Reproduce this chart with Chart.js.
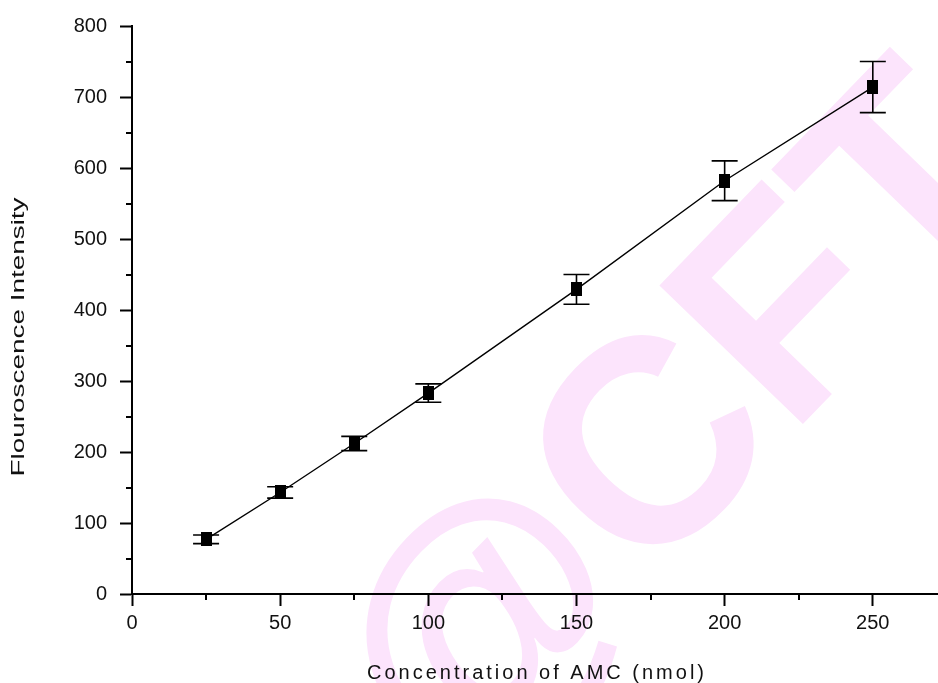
<!DOCTYPE html>
<html>
<head>
<meta charset="utf-8">
<script src="https://cdn.jsdelivr.net/npm/chart.js@4.4.1/dist/chart.umd.min.js"></script>
<style>
  html, body { margin: 0; padding: 0; background: #fff; }
  #wrap { width: 938px; height: 683px; }
</style>
</head>
<body>
<div id="wrap"><canvas id="amcChart" width="938" height="683"></canvas></div>
<script>
// values
const concentration = [25, 50, 75, 100, 150, 200, 250];
const intensity = [77, 143, 212, 283, 429, 582, 714];
const errorSize = [6, 8, 10, 13, 21, 28, 36];
const xMinorTicks = [25, 75, 125, 175, 225];
const yMinorTicks = [50, 150, 250, 350, 450, 550, 650, 750];
const xTitle = "Concentration of AMC (nmol)";
const yTitle = "Flouroscence Intensity";
const watermarkText = "@CFT";

// filled square marker, a bit taller than wide like the original
const marker = document.createElement("canvas");
marker.width = 11;
marker.height = 14;
const mctx = marker.getContext("2d");
mctx.fillStyle = "#000";
mctx.fillRect(0, 0, 11, 14);

const watermark = {
    id: "watermark",
    beforeDraw(chart) {
        const ctx = chart.ctx;
        ctx.save();
        ctx.translate(684, 432);
        ctx.rotate(-46 * Math.PI / 180);
        ctx.font = "bold 290px 'Liberation Sans', Arial, sans-serif";
        ctx.fillStyle = "#fce4fc";
        ctx.textAlign = "center";
        ctx.textBaseline = "middle";
        ctx.fillText(watermarkText, 0, 0);
        ctx.restore();
    }
};

const errorBars = {
    id: "errorBars",
    afterDatasetsDraw(chart) {
        const ctx = chart.ctx;
        const xs = chart.scales.x, ys = chart.scales.y;
        ctx.save();
        ctx.strokeStyle = "#000";
        ctx.lineWidth = 1.6;
        concentration.forEach((c, i) => {
            const x = xs.getPixelForValue(c);
            const top = ys.getPixelForValue(intensity[i] + errorSize[i]);
            const bot = ys.getPixelForValue(intensity[i] - errorSize[i]);
            ctx.beginPath();
            ctx.moveTo(x, top); ctx.lineTo(x, bot);
            ctx.moveTo(x - 13, top); ctx.lineTo(x + 13, top);
            ctx.moveTo(x - 13, bot); ctx.lineTo(x + 13, bot);
            ctx.stroke();
        });
        ctx.restore();
    }
};

const axisExtras = {
    id: "axisExtras",
    afterDraw(chart) {
        const ctx = chart.ctx;
        const xs = chart.scales.x, ys = chart.scales.y;
        const area = chart.chartArea;
        ctx.save();
        // minor ticks
        ctx.strokeStyle = "#000";
        ctx.lineWidth = 2;
        ctx.beginPath();
        yMinorTicks.forEach(v => {
            const y = Math.round(ys.getPixelForValue(v));
            ctx.moveTo(area.left - 6, y); ctx.lineTo(area.left, y);
        });
        xMinorTicks.forEach(v => {
            const x = Math.round(xs.getPixelForValue(v));
            ctx.moveTo(x, area.bottom); ctx.lineTo(x, area.bottom + 6);
        });
        ctx.stroke();

        // axis titles
        ctx.fillStyle = "#111";
        ctx.font = "20px 'Liberation Sans', Arial, sans-serif";
        ctx.textAlign = "center";
        ctx.textBaseline = "middle";
        ctx.letterSpacing = "3px";
        ctx.fillText(xTitle, 537, 673);
        ctx.letterSpacing = "0px";
        ctx.translate(19, 337);
        ctx.rotate(-Math.PI / 2);
        ctx.scale(1.55, 1);
        ctx.font = "18px 'Liberation Sans', Arial, sans-serif";
        ctx.fillText(yTitle, 0, 0);
        ctx.restore();
    }
};

const ctx = document.getElementById("amcChart").getContext("2d");
const amcChart = new Chart(ctx, {
    type: "line",
    data: {
        datasets: [{
            data: concentration.map((c, i) => ({ x: c, y: intensity[i] })),
            borderColor: "#000",
            borderWidth: 1.4,
            pointStyle: marker,
            pointRadius: 7,
            tension: 0,
            fill: false
        }]
    },
    options: {
        responsive: false,
        animation: false,
        layout: { autoPadding: false, padding: { top: 26, right: 0, left: 0, bottom: 0 } },
        plugins: { legend: { display: false }, tooltip: { enabled: false } },
        scales: {
            x: {
                type: "linear",
                min: 0,
                max: 272,
                afterFit(scale) { scale.height = 89; },
                border: { display: true, color: "#000", width: 2 },
                grid: { drawOnChartArea: false, tickLength: 12, tickColor: "#000", tickWidth: 2 },
                ticks: {
                    stepSize: 50,
                    includeBounds: false,
                    padding: 5,
                    color: "#111",
                    font: { family: "'Liberation Sans', Arial, sans-serif", size: 20 }
                }
            },
            y: {
                min: 0,
                max: 800,
                afterFit(scale) { scale.width = 132; },
                border: { display: true, color: "#000", width: 2 },
                grid: { drawOnChartArea: false, tickLength: 12, tickColor: "#000", tickWidth: 2 },
                ticks: {
                    stepSize: 100,
                    padding: 13,
                    color: "#111",
                    font: { family: "'Liberation Sans', Arial, sans-serif", size: 20 }
                }
            }
        }
    },
    plugins: [watermark, errorBars, axisExtras]
});
</script>
</body>
</html>
